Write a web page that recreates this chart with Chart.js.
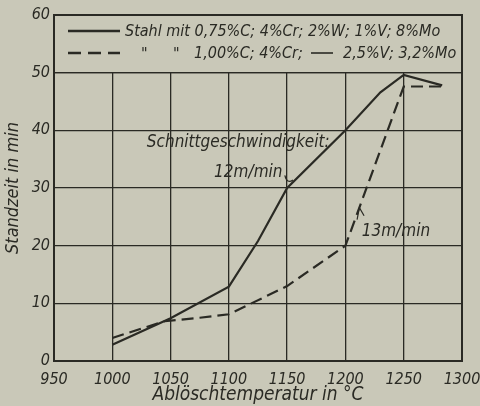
<!DOCTYPE html>
<html>
<head>
<meta charset="utf-8">
<script src="https://cdn.jsdelivr.net/npm/chart.js@4.4.1/dist/chart.umd.min.js"></script>
<style>
  html, body { margin: 0; padding: 0; background: #c9c8b8; }
  #wrap { width: 480px; height: 406px; position: relative; }
</style>
</head>
<body>
<div id="wrap"><canvas id="chart"></canvas></div>
<script>
// Ablöschtemperatur (°C) and Standzeit (min)
const tempSolid = [1000, 1050, 1100, 1125, 1150, 1200, 1230, 1250, 1283];
const timeSolid = [2.8, 7.4, 12.9, 20.8, 30, 40, 46.6, 49.6, 47.8];
const tempDashed = [1000, 1045, 1075, 1100, 1150, 1200, 1250, 1283];
const timeDashed = [4.0, 6.9, 7.5, 8.1, 13.0, 20.0, 47.6, 47.6];

const xTicks = [950, 1000, 1050, 1100, 1150, 1200, 1250, 1300];
const yTicks = [0, 10, 20, 30, 40, 50, 60];

const legendSolid = 'Stahl mit 0,75%C; 4%Cr; 2%W; 1%V; 8%Mo';
const legendDashed = ['"', '"', '1,00%C; 4%Cr;', '2,5%V; 3,2%Mo'];

const notes = [
  { text: 'Schnittgeschwindigkeit:', x: 1108, y: 37.8, align: 'center', size: 17 },
  { text: '12m/min', x: 1146, y: 32.6, align: 'right', size: 17 },
  { text: '13m/min', x: 1214, y: 22.4, align: 'left', size: 17 }
];

const ink = '#2a2a24';
const paper = '#c9c8b8';
const fontFam = '"DejaVu Sans Condensed", "DejaVu Sans", sans-serif';

function toPoints(xs, ys) {
  return xs.map((x, i) => ({ x: x, y: ys[i] }));
}

// legend box, frame and the little notes
const decorPlugin = {
  id: 'decor',
  beforeDatasetsDraw(chart) {
    const { ctx, chartArea: a, scales } = chart;
    const y50 = scales.y.getPixelForValue(50);
    ctx.save();
    ctx.fillStyle = paper;
    ctx.fillRect(a.left + 1, a.top, a.right - a.left - 2, y50 - a.top);
    ctx.strokeStyle = ink;
    ctx.lineWidth = 1.4;
    ctx.beginPath();
    ctx.moveTo(a.left, y50);
    ctx.lineTo(a.right, y50);
    ctx.stroke();

    // legend rows
    ctx.fillStyle = ink;
    ctx.font = 'italic 16px ' + fontFam;
    ctx.textBaseline = 'middle';
    ctx.lineWidth = 2.4;
    const r1 = a.top + 16, r2 = a.top + 38;
    ctx.beginPath();
    ctx.moveTo(a.left + 14, r1);
    ctx.lineTo(a.left + 66, r1);
    ctx.stroke();
    ctx.textAlign = 'left';
    ctx.fillText(legendSolid, a.left + 71, r1 + 1);

    ctx.setLineDash([13, 7]);
    ctx.beginPath();
    ctx.moveTo(a.left + 14, r2);
    ctx.lineTo(a.left + 66, r2);
    ctx.stroke();
    ctx.setLineDash([]);
    ctx.fillText(legendDashed[0], a.left + 87, r2 + 2);
    ctx.fillText(legendDashed[1], a.left + 119, r2 + 2);
    ctx.fillText(legendDashed[2], a.left + 140, r2 + 1);
    ctx.lineWidth = 1.6;
    ctx.beginPath();
    ctx.moveTo(a.left + 257, r2);
    ctx.lineTo(a.left + 279, r2);
    ctx.stroke();
    ctx.fillText(legendDashed[3], a.left + 289, r2 + 1);

    // notes
    notes.forEach(n => {
      ctx.font = 'italic ' + n.size + 'px ' + fontFam;
      ctx.textAlign = n.align;
      ctx.fillText(n.text, scales.x.getPixelForValue(n.x), scales.y.getPixelForValue(n.y));
    });

    // leaders
    const px = v => scales.x.getPixelForValue(v);
    const py = v => scales.y.getPixelForValue(v);
    ctx.lineWidth = 1.2;
    ctx.beginPath();
    ctx.moveTo(px(1148), py(32.2));
    ctx.quadraticCurveTo(px(1150), py(30.6), px(1155), py(31.4));
    ctx.stroke();
    ctx.beginPath();
    ctx.moveTo(px(1210), py(24.5));
    ctx.lineTo(px(1212), py(26.6));
    ctx.lineTo(px(1216), py(25.2));
    ctx.stroke();

    // outer frame
    ctx.lineWidth = 2;
    ctx.strokeRect(a.left, a.top, a.right - a.left, a.bottom - a.top);
    ctx.restore();
  }
};

new Chart(document.getElementById('chart'), {
  type: 'line',
  data: {
    datasets: [
      {
        data: toPoints(tempSolid, timeSolid),
        borderColor: ink,
        borderWidth: 2.2,
        pointRadius: 0,
        tension: 0,
        fill: false
      },
      {
        data: toPoints(tempDashed, timeDashed),
        borderColor: ink,
        borderWidth: 2.2,
        borderDash: [12, 6],
        pointRadius: 0,
        tension: 0,
        fill: false
      }
    ]
  },
  options: {
    responsive: true,
    maintainAspectRatio: false,
    animation: false,
    layout: { padding: { top: 15, right: 18, left: 0, bottom: 0 } },
    plugins: {
      legend: { display: false },
      tooltip: { enabled: false }
    },
    scales: {
      x: {
        type: 'linear',
        min: 950,
        max: 1300,
        afterBuildTicks: s => { s.ticks = xTicks.map(v => ({ value: v })); },
        afterFit: s => { s.height = 45; s.paddingLeft = 0; s.paddingRight = 0; },
        grid: { color: ink, lineWidth: 1.3, drawTicks: false },
        border: { display: false },
        ticks: {
          color: ink,
          padding: 9,
          maxRotation: 0,
          callback: v => String(v),
          font: { family: fontFam, size: 16, style: 'italic' }
        },
        title: {
          display: true,
          text: 'Ablöschtemperatur in °C',
          color: ink,
          padding: 0,
          font: { family: fontFam, size: 19, style: 'italic' }
        }
      },
      y: {
        min: 0,
        max: 60,
        afterBuildTicks: s => { s.ticks = yTicks.map(v => ({ value: v })); },
        afterFit: s => { s.width = 54; s.paddingTop = 0; s.paddingBottom = 0; },
        grid: { color: ink, lineWidth: 1.3, drawTicks: false },
        border: { display: false },
        ticks: {
          color: ink,
          padding: 4,
          callback: v => String(v),
          font: { family: fontFam, size: 16, style: 'italic' }
        },
        title: {
          display: true,
          text: 'Standzeit in min',
          color: ink,
          padding: { top: 3, bottom: 0 },
          font: { family: fontFam, size: 18, style: 'italic' }
        }
      }
    }
  },
  plugins: [decorPlugin]
});
</script>
</body>
</html>
